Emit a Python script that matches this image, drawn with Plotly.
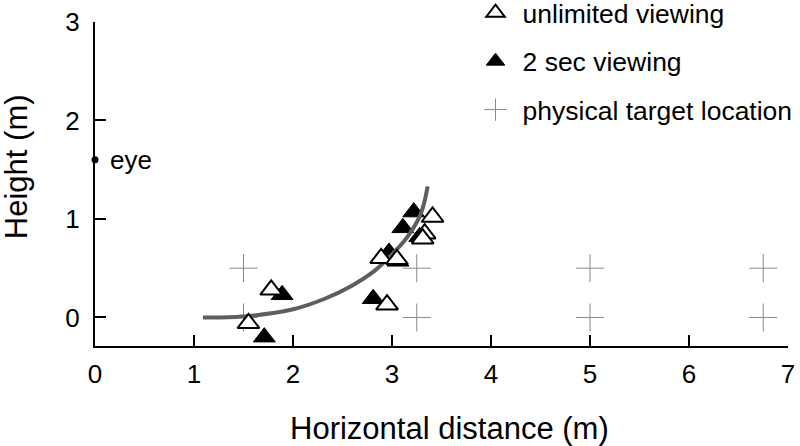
import plotly.graph_objects as go

# Data
unlimited_x = [1.78, 1.55, 2.89, 3.05, 2.95, 3.41, 3.33, 3.31]
unlimited_y = [0.28, -0.06, 0.60, 0.59, 0.13, 1.02, 0.85, 0.80]

twosec_x = [1.89, 1.71, 2.81, 2.97, 3.06, 3.22, 3.11, 3.28]
twosec_y = [0.23, -0.20, 0.19, 0.66, 0.57, 1.07, 0.91, 0.82]

target_x = [1.5, 1.5, 3.25, 3.25, 5.0, 5.0, 6.75, 6.75]
target_y = [0.5, 0.0, 0.5, 0.0, 0.5, 0.0, 0.5, 0.0]

curve_x = [1.09, 1.49, 1.99, 2.32, 2.59, 2.82, 2.99, 3.15, 3.29, 3.36]
curve_y = [0.00, 0.01, 0.08, 0.19, 0.32, 0.47, 0.63, 0.81, 1.05, 1.33]

eye_x = [0]
eye_y = [1.6]
eye_label = "eye"

x_ticks = [0, 1, 2, 3, 4, 5, 6, 7]
y_ticks = [0, 1, 2, 3]

x_title = "Horizontal distance (m)"
y_title = "Height (m)"

FONT = "Liberation Sans, Arial, sans-serif"

fig = go.Figure()

fig.add_trace(go.Scatter(
    x=target_x, y=target_y, mode="markers", name="physical target location",
    marker=dict(symbol="cross-thin", size=20, color="#888888",
                line=dict(width=1, color="#888888")),
    legendgroup="c", legendrank=3))

fig.add_trace(go.Scatter(
    x=twosec_x, y=twosec_y, mode="markers", name="2 sec viewing",
    marker=dict(symbol="triangle-up", size=19, color="black",
                line=dict(width=1, color="black")),
    legendgroup="b", legendrank=2))

fig.add_trace(go.Scatter(
    x=curve_x, y=curve_y, mode="lines", showlegend=False,
    line=dict(color="#5e5e5e", width=4, shape="spline", smoothing=1.0)))

fig.add_trace(go.Scatter(
    x=unlimited_x, y=unlimited_y, mode="markers", name="unlimited viewing",
    marker=dict(symbol="triangle-up", size=19, color="white",
                line=dict(width=2, color="black")),
    legendgroup="a", legendrank=1))

fig.add_trace(go.Scatter(
    x=eye_x, y=eye_y, mode="markers", showlegend=False,
    marker=dict(symbol="circle", size=7, color="black"),
    cliponaxis=False))

fig.add_annotation(x=eye_x[0], y=eye_y[0], text=eye_label, showarrow=False,
                   xanchor="left", yanchor="middle", xshift=13,
                   font=dict(family=FONT, size=26, color="black"))

L, R, T, B, W, H = 95, 12, 22, 100, 800, 446
pw, ph = W - L - R, H - T - B

# Axis titles as annotations (pixel positions converted to paper coords)
fig.add_annotation(x=0.511, y=(H - B - 428) / ph, xref="paper", yref="paper",
                   text=x_title, showarrow=False,
                   xanchor="center", yanchor="middle",
                   font=dict(family=FONT, size=31, color="black"))
fig.add_annotation(x=(16 - L) / pw, y=0.552, xref="paper", yref="paper",
                   text=y_title, showarrow=False,
                   xanchor="center", yanchor="middle", textangle=-90,
                   font=dict(family=FONT, size=31, color="black"))

axis_common = dict(
    showline=True, linecolor="black", linewidth=2,
    ticks="inside", ticklen=11, tickwidth=2, tickcolor="black",
    showgrid=False, zeroline=False,
    tickfont=dict(family=FONT, size=26, color="black"),
)

fig.update_xaxes(range=[0, 7], tickvals=x_ticks, ticklabelstandoff=4,
                 **axis_common)
fig.update_yaxes(range=[-0.29, 3], tickvals=y_ticks, ticklabelstandoff=8,
                 **axis_common)

fig.update_layout(
    width=W, height=H,
    margin=dict(l=L, r=R, t=T, b=B, autoexpand=False),
    plot_bgcolor="white", paper_bgcolor="white",
    showlegend=True,
    legend=dict(x=0.539, y=1.102, xanchor="left", yanchor="top",
                font=dict(family=FONT, size=26.5, color="black"),
                tracegroupgap=11, itemwidth=44, bgcolor="rgba(0,0,0,0)"),
)

fig.write_html("out.html", config={"displayModeBar": False},
               post_script="document.body.style.margin='0';document.body.style.padding='0';")
